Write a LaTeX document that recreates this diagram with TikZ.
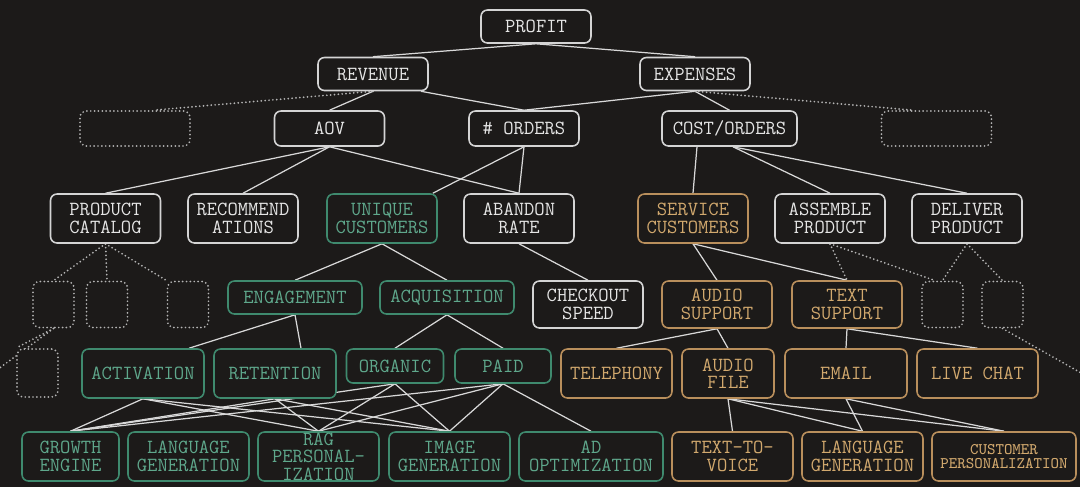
\documentclass[tikz,border=0pt]{standalone}
\usepackage{fontspec}
\definecolor{bgc}{HTML}{1C1A19}
\definecolor{linec}{HTML}{D8D8D8}
\definecolor{wline}{HTML}{D4D4D4}
\definecolor{wtext}{HTML}{E6E6E6}
\definecolor{gline}{HTML}{3F8A6E}
\definecolor{gtext}{HTML}{5FA88C}
\definecolor{oline}{HTML}{B98F5C}
\definecolor{otext}{HTML}{D2A96E}
\definecolor{dotc}{HTML}{B4B4B4}
\pgfdeclarelayer{back}
\pgfsetlayers{back,main}

\begin{document}
\begin{tikzpicture}[x=0.02cm, y=-0.02cm,
  tbox/.style={rounded corners=0.13cm, line width=0.9pt, fill=bgc, align=center, inner sep=0pt,
    font=\ttfamily\fontsize{11.4}{9.9}\selectfont, minimum width=2.2cm, minimum height=0.98cm},
  wbox/.style={tbox, draw=wline, text=wtext},
  gbox/.style={tbox, draw=gline, text=gtext},
  obox/.style={tbox, draw=oline, text=otext},
  dbox/.style={tbox, draw=dotc, line width=1.1pt, dash pattern=on 0pt off 2.2pt, line cap=round},
  link/.style={linec, line width=0.7pt},
  dlink/.style={dotc, line width=1.1pt, dash pattern=on 0pt off 2.2pt, line cap=round}]
\useasboundingbox (0,0) rectangle (1080,487);

% top
\node[wbox, minimum height=0.66cm] (prof) at (536,26.5) {PROFIT};
\node[wbox, minimum height=0.66cm] (rev) at (373,74) {REVENUE};
\node[wbox, minimum height=0.66cm] (exps) at (695,74) {EXPENSES};

\node[dbox, minimum height=0.7cm] (dotL) at (135,128.5) {};
\node[wbox, minimum height=0.7cm] (aov) at (329.5,128.5) {AOV};
\node[wbox, minimum height=0.7cm] (ords) at (524,128.5) {\# ORDERS};
\node[wbox, minimum height=0.7cm, minimum width=2.7cm] (cost) at (729.5,128.5) {COST/ORDERS};
\node[dbox, minimum height=0.7cm] (dotR) at (936.5,128.5) {};

% third row
\node[wbox] (prod) at (105.5,218.5) {PRODUCT\\CATALOG};
\node[wbox] (recm) at (243,218.5) {RECOMMEND\\ATIONS};
\node[gbox] (uniq) at (382,218.5) {UNIQUE\\CUSTOMERS};
\node[wbox] (aban) at (519,218.5) {ABANDON\\RATE};
\node[obox] (serv) at (693,218.5) {SERVICE\\CUSTOMERS};
\node[wbox] (asm) at (830,218.5) {ASSEMBLE\\PRODUCT};
\node[wbox] (dlv) at (967,218.5) {DELIVER\\PRODUCT};

% fourth row
\node[dbox, minimum width=0.82cm, minimum height=0.92cm] (d1) at (53.5,304.5) {};
\node[dbox, minimum width=0.82cm, minimum height=0.92cm] (d2) at (107,304.5) {};
\node[dbox, minimum width=0.82cm, minimum height=0.92cm] (d3) at (188,304.5) {};
\node[gbox, minimum width=2.68cm, minimum height=0.66cm] (eng) at (295,297.5) {ENGAGEMENT};
\node[gbox, minimum width=2.68cm, minimum height=0.66cm] (acq) at (447,297.5) {ACQUISITION};
\node[wbox, minimum height=0.94cm] (chk) at (588,304.5) {CHECKOUT\\SPEED};
\node[obox, minimum height=0.94cm] (asup) at (717,304.5) {AUDIO\\SUPPORT};
\node[obox, minimum height=0.94cm] (tsup) at (847,304.5) {TEXT\\SUPPORT};
\node[dbox, minimum width=0.82cm, minimum height=0.92cm] (d4) at (942.5,304.5) {};
\node[dbox, minimum width=0.82cm, minimum height=0.92cm] (d5) at (1002.5,304.5) {};

% fifth row
\node[dbox, minimum width=0.82cm, minimum height=0.96cm] (d6) at (37.5,373) {};
\node[gbox, minimum width=2.44cm] (act) at (143,373.5) {ACTIVATION};
\node[gbox, minimum width=2.44cm] (ret) at (275,373.5) {RETENTION};
\node[gbox, minimum width=1.94cm, minimum height=0.68cm] (org) at (395,366) {ORGANIC};
\node[gbox, minimum width=1.92cm, minimum height=0.68cm] (paid) at (503,366) {PAID};
\node[obox, minimum width=2.22cm] (tel) at (616.5,373.5) {TELEPHONY};
\node[obox, minimum width=1.84cm] (afile) at (728,373.5) {AUDIO\\FILE};
\node[obox, minimum width=2.44cm] (email) at (846,373.5) {EMAIL};
\node[obox, minimum width=2.42cm] (chat) at (977.5,373.5) {LIVE CHAT};

% bottom row
\node[gbox, minimum width=1.94cm] (grow) at (70.5,456.5) {GROWTH\\ENGINE};
\node[gbox, minimum width=2.42cm] (langg) at (188.5,456.5) {LANGUAGE\\GENERATION};
\node[gbox, minimum width=2.42cm] (rag) at (318.5,456.5) {RAG\\PERSONAL-\\IZATION};
\node[gbox, minimum width=2.42cm] (img) at (449.5,456.5) {IMAGE\\GENERATION};
\node[gbox, minimum width=2.88cm] (adopt) at (591,456.5) {AD\\OPTIMIZATION};
\node[obox, minimum width=2.42cm] (ttv) at (732.5,456.5) {TEXT-TO-\\VOICE};
\node[obox, minimum width=2.42cm] (lango) at (862.5,456.5) {LANGUAGE\\GENERATION};
\node[obox, minimum width=2.88cm, font=\ttfamily\fontsize{9.2}{8}\selectfont] (cust) at (1004,456.5) {CUSTOMER\\PERSONALIZATION};

\coordinate (offL) at (-10,375);
\coordinate (offR) at (1090,378);

\begin{pgfonlayer}{back}
\fill[bgc] (0,0) rectangle (1080,487);
% solid links
\draw[link] (prof.south) -- (rev.north);
\draw[link] (prof.south) -- (exps.north);
\draw[link] (rev.south) -- (aov.north);
\draw[link] ([xshift=0.96cm]rev.south) -- (ords.north);
\draw[link] (exps.south) -- (ords.north);
\draw[link] (exps.south) -- (cost.north);
\foreach \t in {prod,recm,aban} {\draw[link] (aov.south) -- (\t.north);}
\draw[link] (ords.south) -- ([xshift=-0.1cm]uniq.north east);
\draw[link] (ords.south) -- (aban.north);
\draw[link] ([xshift=-0.65cm]cost.south) -- (serv.north);
\foreach \t in {asm,dlv} {\draw[link] ([xshift=0.07cm]cost.south) -- (\t.north);}
\foreach \t in {eng,acq} {\draw[link] (uniq.south) -- (\t.north);}
\draw[link] (aban.south) -- (chk.north);
\foreach \t in {asup,tsup} {\draw[link] (serv.south) -- (\t.north);}
\draw[link] (eng.south) -- ([xshift=0.92cm]act.north);
\draw[link] (eng.south) -- ([xshift=0.52cm]ret.north);
\foreach \t in {org,paid} {\draw[link] (acq.south) -- (\t.north);}
\foreach \t in {tel,afile} {\draw[link] (asup.south) -- (\t.north);}
\foreach \t in {email,chat} {\draw[link] (tsup.south) -- (\t.north);}
\foreach \s in {act,ret,org,paid}
  \foreach \t in {grow,rag,img} {\draw[link] (\s.south) -- (\t.north);}
\draw[link] (paid.south) -- (adopt.north);
\foreach \t in {ttv,lango,cust} {\draw[link] (afile.south) -- (\t.north);}
\foreach \t in {lango,cust} {\draw[link] (email.south) -- (\t.north);}
% dotted links
\draw[dlink] (rev.south) -- ([xshift=0.4cm]dotL.north);
\draw[dlink] (exps.south) -- ([xshift=-0.5cm]dotR.north);
\draw[dlink] (prod.south) -- (d1.north);
\draw[dlink] (prod.south) -- (d2.north);
\draw[dlink] (prod.south) -- (d3.north west);
\draw[dlink] (d1.south) -- (d6.north west);
\draw[dlink] (d1.south) -- (offL);
\draw[dlink] (asm.south) -- (tsup.north);
\draw[dlink] (asm.south) -- ([xshift=-0.15cm]d4.north);
\draw[dlink] (dlv.south) -- (d4.north);
\draw[dlink] (dlv.south) -- (d5.north);
\draw[dlink] (d5.south) -- (offR);
\end{pgfonlayer}
\end{tikzpicture}
\end{document}
